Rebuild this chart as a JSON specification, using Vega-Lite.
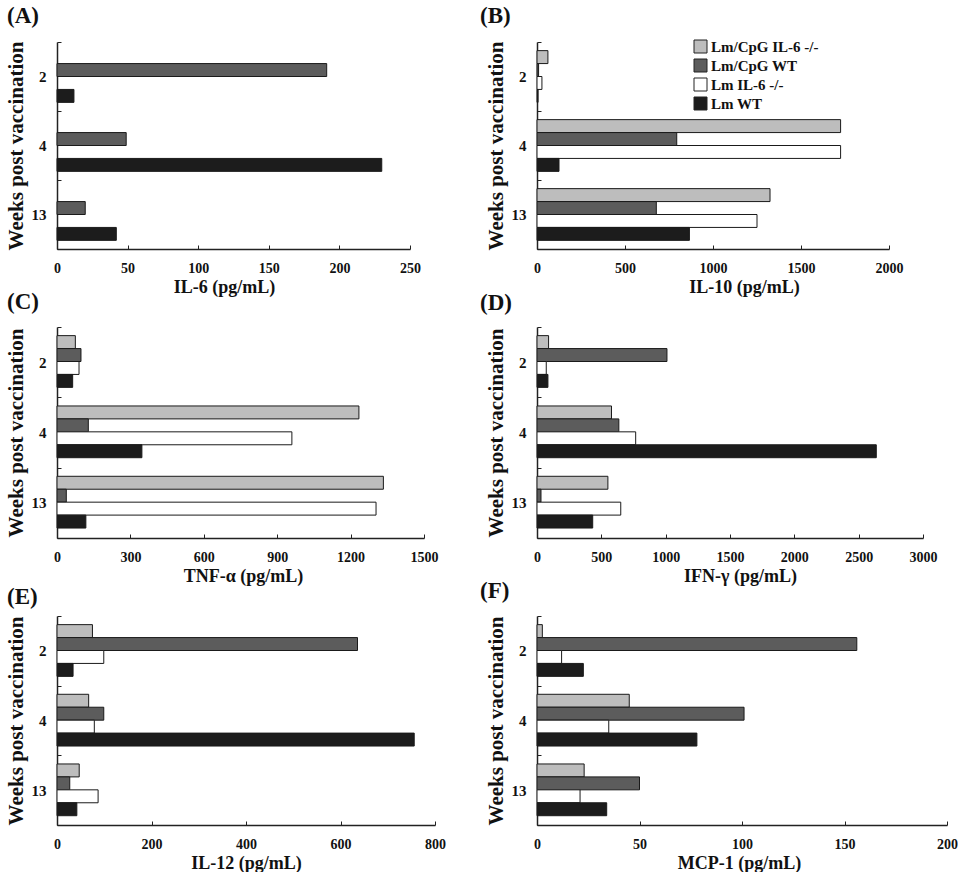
{
  "$schema": "https://vega.github.io/schema/vega-lite/v6.json",
  "background": "white",
  "padding": {"left": 5, "top": 5, "right": 0, "bottom": 0},
  "data": {"values": [
    {"panel": "A", "week": "2", "group": "Lm/CpG WT", "value": 191},
    {"panel": "A", "week": "2", "group": "Lm WT", "value": 12},
    {"panel": "A", "week": "4", "group": "Lm/CpG WT", "value": 49},
    {"panel": "A", "week": "4", "group": "Lm WT", "value": 230},
    {"panel": "A", "week": "13", "group": "Lm/CpG WT", "value": 20},
    {"panel": "A", "week": "13", "group": "Lm WT", "value": 42},

    {"panel": "B", "week": "2", "group": "Lm/CpG IL-6 -/-", "value": 62},
    {"panel": "B", "week": "2", "group": "Lm/CpG WT", "value": 9},
    {"panel": "B", "week": "2", "group": "Lm IL-6 -/-", "value": 28},
    {"panel": "B", "week": "2", "group": "Lm WT", "value": 6},
    {"panel": "B", "week": "4", "group": "Lm/CpG IL-6 -/-", "value": 1725},
    {"panel": "B", "week": "4", "group": "Lm/CpG WT", "value": 794},
    {"panel": "B", "week": "4", "group": "Lm IL-6 -/-", "value": 1725},
    {"panel": "B", "week": "4", "group": "Lm WT", "value": 125},
    {"panel": "B", "week": "13", "group": "Lm/CpG IL-6 -/-", "value": 1324},
    {"panel": "B", "week": "13", "group": "Lm/CpG WT", "value": 678},
    {"panel": "B", "week": "13", "group": "Lm IL-6 -/-", "value": 1250},
    {"panel": "B", "week": "13", "group": "Lm WT", "value": 866},

    {"panel": "C", "week": "2", "group": "Lm/CpG IL-6 -/-", "value": 75},
    {"panel": "C", "week": "2", "group": "Lm/CpG WT", "value": 98},
    {"panel": "C", "week": "2", "group": "Lm IL-6 -/-", "value": 90},
    {"panel": "C", "week": "2", "group": "Lm WT", "value": 64},
    {"panel": "C", "week": "4", "group": "Lm/CpG IL-6 -/-", "value": 1234},
    {"panel": "C", "week": "4", "group": "Lm/CpG WT", "value": 128},
    {"panel": "C", "week": "4", "group": "Lm IL-6 -/-", "value": 960},
    {"panel": "C", "week": "4", "group": "Lm WT", "value": 347},
    {"panel": "C", "week": "13", "group": "Lm/CpG IL-6 -/-", "value": 1334},
    {"panel": "C", "week": "13", "group": "Lm/CpG WT", "value": 38},
    {"panel": "C", "week": "13", "group": "Lm IL-6 -/-", "value": 1304},
    {"panel": "C", "week": "13", "group": "Lm WT", "value": 118},

    {"panel": "D", "week": "2", "group": "Lm/CpG IL-6 -/-", "value": 90},
    {"panel": "D", "week": "2", "group": "Lm/CpG WT", "value": 1010},
    {"panel": "D", "week": "2", "group": "Lm IL-6 -/-", "value": 72},
    {"panel": "D", "week": "2", "group": "Lm WT", "value": 85},
    {"panel": "D", "week": "4", "group": "Lm/CpG IL-6 -/-", "value": 579},
    {"panel": "D", "week": "4", "group": "Lm/CpG WT", "value": 636},
    {"panel": "D", "week": "4", "group": "Lm IL-6 -/-", "value": 767},
    {"panel": "D", "week": "4", "group": "Lm WT", "value": 2637},
    {"panel": "D", "week": "13", "group": "Lm/CpG IL-6 -/-", "value": 551},
    {"panel": "D", "week": "13", "group": "Lm/CpG WT", "value": 31},
    {"panel": "D", "week": "13", "group": "Lm IL-6 -/-", "value": 651},
    {"panel": "D", "week": "13", "group": "Lm WT", "value": 433},

    {"panel": "E", "week": "2", "group": "Lm/CpG IL-6 -/-", "value": 75},
    {"panel": "E", "week": "2", "group": "Lm/CpG WT", "value": 636},
    {"panel": "E", "week": "2", "group": "Lm IL-6 -/-", "value": 99},
    {"panel": "E", "week": "2", "group": "Lm WT", "value": 34},
    {"panel": "E", "week": "4", "group": "Lm/CpG IL-6 -/-", "value": 67},
    {"panel": "E", "week": "4", "group": "Lm/CpG WT", "value": 99},
    {"panel": "E", "week": "4", "group": "Lm IL-6 -/-", "value": 79},
    {"panel": "E", "week": "4", "group": "Lm WT", "value": 756},
    {"panel": "E", "week": "13", "group": "Lm/CpG IL-6 -/-", "value": 47},
    {"panel": "E", "week": "13", "group": "Lm/CpG WT", "value": 27},
    {"panel": "E", "week": "13", "group": "Lm IL-6 -/-", "value": 87},
    {"panel": "E", "week": "13", "group": "Lm WT", "value": 42},

    {"panel": "F", "week": "2", "group": "Lm/CpG IL-6 -/-", "value": 2.6},
    {"panel": "F", "week": "2", "group": "Lm/CpG WT", "value": 156},
    {"panel": "F", "week": "2", "group": "Lm IL-6 -/-", "value": 12},
    {"panel": "F", "week": "2", "group": "Lm WT", "value": 22.6},
    {"panel": "F", "week": "4", "group": "Lm/CpG IL-6 -/-", "value": 45},
    {"panel": "F", "week": "4", "group": "Lm/CpG WT", "value": 101},
    {"panel": "F", "week": "4", "group": "Lm IL-6 -/-", "value": 35},
    {"panel": "F", "week": "4", "group": "Lm WT", "value": 78},
    {"panel": "F", "week": "13", "group": "Lm/CpG IL-6 -/-", "value": 23},
    {"panel": "F", "week": "13", "group": "Lm/CpG WT", "value": 50},
    {"panel": "F", "week": "13", "group": "Lm IL-6 -/-", "value": 21},
    {"panel": "F", "week": "13", "group": "Lm WT", "value": 34}
  ]},
  "columns": 2,
  "spacing": {"row": 78, "column": 102},
  "bounds": "flush",
  "resolve": {"scale": {"fill": "independent"}, "legend": {"fill": "independent"}},
  "concat": [
    {
      "width": 353, "height": 207,
      "title": {"text": "(A)", "anchor": "start", "frame": "group", "dx": -50, "offset": 7},
      "transform": [{"filter": "datum.panel === 'A'"}],
      "mark": {"type": "bar", "stroke": "#1a1a1a", "strokeWidth": 1},
      "encoding": {
        "y": {"field": "week", "type": "nominal", "sort": ["2", "4", "13"], "scale": {"paddingInner": 0, "paddingOuter": 0}, "axis": {"title": "Weeks post vaccination", "tickBand": "extent"}},
        "yOffset": {"field": "group", "type": "nominal", "scale": {"domain": ["Lm/CpG IL-6 -/-", "Lm/CpG WT", "Lm IL-6 -/-", "Lm WT"], "paddingInner": 0, "paddingOuter": 0.667}},
        "x": {"field": "value", "type": "quantitative", "scale": {"domain": [0, 250], "nice": false}, "axis": {"values": [0, 50, 100, 150, 200, 250], "format": "d", "title": "IL-6 (pg/mL)", "titleX": 167}},
        "fill": {"field": "group", "type": "nominal", "scale": {"domain": ["Lm/CpG IL-6 -/-", "Lm/CpG WT", "Lm IL-6 -/-", "Lm WT"], "range": ["#bdbdbd", "#5c5c5c", "#ffffff", "#1c1c1c"]}, "legend": null}
      }
    },
    {
      "width": 352, "height": 207,
      "title": {"text": "(B)", "anchor": "start", "frame": "group", "dx": -57, "offset": 7},
      "transform": [{"filter": "datum.panel === 'B'"}],
      "mark": {"type": "bar", "stroke": "#1a1a1a", "strokeWidth": 1},
      "encoding": {
        "y": {"field": "week", "type": "nominal", "sort": ["2", "4", "13"], "scale": {"paddingInner": 0, "paddingOuter": 0}, "axis": {"title": "Weeks post vaccination", "tickBand": "extent"}},
        "yOffset": {"field": "group", "type": "nominal", "scale": {"domain": ["Lm/CpG IL-6 -/-", "Lm/CpG WT", "Lm IL-6 -/-", "Lm WT"], "paddingInner": 0, "paddingOuter": 0.667}},
        "x": {"field": "value", "type": "quantitative", "scale": {"domain": [0, 2000], "nice": false}, "axis": {"values": [0, 500, 1000, 1500, 2000], "format": "d", "title": "IL-10 (pg/mL)", "titleX": 207}},
        "fill": {"field": "group", "type": "nominal", "scale": {"domain": ["Lm/CpG IL-6 -/-", "Lm/CpG WT", "Lm IL-6 -/-", "Lm WT"], "range": ["#bdbdbd", "#5c5c5c", "#ffffff", "#1c1c1c"]},
          "legend": {"orient": "none", "legendX": 156, "legendY": -3, "title": null, "symbolType": "square", "symbolSize": 169, "symbolStrokeColor": "#222222", "symbolStrokeWidth": 1, "symbolOpacity": 1, "labelFont": "Liberation Serif", "labelFontWeight": "bold", "labelFontSize": 15, "labelColor": "#111111", "labelOffset": 3, "rowPadding": 2, "padding": 0}}
      }
    },
    {
      "width": 367, "height": 211,
      "title": {"text": "(C)", "anchor": "start", "frame": "group", "dx": -50, "offset": 6},
      "transform": [{"filter": "datum.panel === 'C'"}],
      "mark": {"type": "bar", "stroke": "#1a1a1a", "strokeWidth": 1},
      "encoding": {
        "y": {"field": "week", "type": "nominal", "sort": ["2", "4", "13"], "scale": {"paddingInner": 0, "paddingOuter": 0}, "axis": {"title": "Weeks post vaccination", "tickBand": "extent"}},
        "yOffset": {"field": "group", "type": "nominal", "scale": {"domain": ["Lm/CpG IL-6 -/-", "Lm/CpG WT", "Lm IL-6 -/-", "Lm WT"], "paddingInner": 0, "paddingOuter": 0.667}},
        "x": {"field": "value", "type": "quantitative", "scale": {"domain": [0, 1500], "nice": false}, "axis": {"values": [0, 300, 600, 900, 1200, 1500], "format": "d", "title": "TNF-α (pg/mL)", "titleX": 186}},
        "fill": {"field": "group", "type": "nominal", "scale": {"domain": ["Lm/CpG IL-6 -/-", "Lm/CpG WT", "Lm IL-6 -/-", "Lm WT"], "range": ["#bdbdbd", "#5c5c5c", "#ffffff", "#1c1c1c"]}, "legend": null}
      }
    },
    {
      "width": 386, "height": 211,
      "title": {"text": "(D)", "anchor": "start", "frame": "group", "dx": -57, "offset": 5},
      "transform": [{"filter": "datum.panel === 'D'"}],
      "mark": {"type": "bar", "stroke": "#1a1a1a", "strokeWidth": 1},
      "encoding": {
        "y": {"field": "week", "type": "nominal", "sort": ["2", "4", "13"], "scale": {"paddingInner": 0, "paddingOuter": 0}, "axis": {"title": "Weeks post vaccination", "tickBand": "extent"}},
        "yOffset": {"field": "group", "type": "nominal", "scale": {"domain": ["Lm/CpG IL-6 -/-", "Lm/CpG WT", "Lm IL-6 -/-", "Lm WT"], "paddingInner": 0, "paddingOuter": 0.667}},
        "x": {"field": "value", "type": "quantitative", "scale": {"domain": [0, 3000], "nice": false}, "axis": {"values": [0, 500, 1000, 1500, 2000, 2500, 3000], "format": "d", "title": "IFN-γ (pg/mL)", "titleX": 203}},
        "fill": {"field": "group", "type": "nominal", "scale": {"domain": ["Lm/CpG IL-6 -/-", "Lm/CpG WT", "Lm IL-6 -/-", "Lm WT"], "range": ["#bdbdbd", "#5c5c5c", "#ffffff", "#1c1c1c"]}, "legend": null}
      }
    },
    {
      "width": 378, "height": 209,
      "title": {"text": "(E)", "anchor": "start", "frame": "group", "dx": -50, "offset": 0},
      "transform": [{"filter": "datum.panel === 'E'"}],
      "mark": {"type": "bar", "stroke": "#1a1a1a", "strokeWidth": 1},
      "encoding": {
        "y": {"field": "week", "type": "nominal", "sort": ["2", "4", "13"], "scale": {"paddingInner": 0, "paddingOuter": 0}, "axis": {"title": "Weeks post vaccination", "tickBand": "extent"}},
        "yOffset": {"field": "group", "type": "nominal", "scale": {"domain": ["Lm/CpG IL-6 -/-", "Lm/CpG WT", "Lm IL-6 -/-", "Lm WT"], "paddingInner": 0, "paddingOuter": 0.667}},
        "x": {"field": "value", "type": "quantitative", "scale": {"domain": [0, 800], "nice": false}, "axis": {"values": [0, 200, 400, 600, 800], "format": "d", "title": "IL-12 (pg/mL)", "titleX": 189}},
        "fill": {"field": "group", "type": "nominal", "scale": {"domain": ["Lm/CpG IL-6 -/-", "Lm/CpG WT", "Lm IL-6 -/-", "Lm WT"], "range": ["#bdbdbd", "#5c5c5c", "#ffffff", "#1c1c1c"]}, "legend": null}
      }
    },
    {
      "width": 410, "height": 209,
      "title": {"text": "(F)", "anchor": "start", "frame": "group", "dx": -57, "offset": 6},
      "transform": [{"filter": "datum.panel === 'F'"}],
      "mark": {"type": "bar", "stroke": "#1a1a1a", "strokeWidth": 1},
      "encoding": {
        "y": {"field": "week", "type": "nominal", "sort": ["2", "4", "13"], "scale": {"paddingInner": 0, "paddingOuter": 0}, "axis": {"title": "Weeks post vaccination", "tickBand": "extent"}},
        "yOffset": {"field": "group", "type": "nominal", "scale": {"domain": ["Lm/CpG IL-6 -/-", "Lm/CpG WT", "Lm IL-6 -/-", "Lm WT"], "paddingInner": 0, "paddingOuter": 0.667}},
        "x": {"field": "value", "type": "quantitative", "scale": {"domain": [0, 200], "nice": false}, "axis": {"values": [0, 50, 100, 150, 200], "format": "d", "title": "MCP-1 (pg/mL)", "titleX": 202}},
        "fill": {"field": "group", "type": "nominal", "scale": {"domain": ["Lm/CpG IL-6 -/-", "Lm/CpG WT", "Lm IL-6 -/-", "Lm WT"], "range": ["#bdbdbd", "#5c5c5c", "#ffffff", "#1c1c1c"]}, "legend": null}
      }
    }
  ],
  "config": {
    "font": "Liberation Serif",
    "view": {"stroke": null},
    "axis": {
      "labelFont": "Liberation Serif", "labelFontWeight": "bold", "labelFontSize": 14, "labelColor": "#111111",
      "titleFont": "Liberation Serif", "titleFontWeight": "bold", "titleColor": "#111111",
      "domainColor": "#222222", "domainWidth": 1.5, "tickColor": "#222222", "tickWidth": 1, "tickSize": -4, "grid": false
    },
    "axisX": {"labelPadding": 16, "titleFontSize": 18, "titlePadding": 3, "labelFlush": false},
    "axisY": {"labelPadding": 15, "labelFontSize": 15, "titleFontSize": 21, "titlePadding": 5, "labelAngle": 0},
    "title": {"font": "Liberation Serif", "fontSize": 23, "fontWeight": "bold", "color": "#111111"}
  }
}
